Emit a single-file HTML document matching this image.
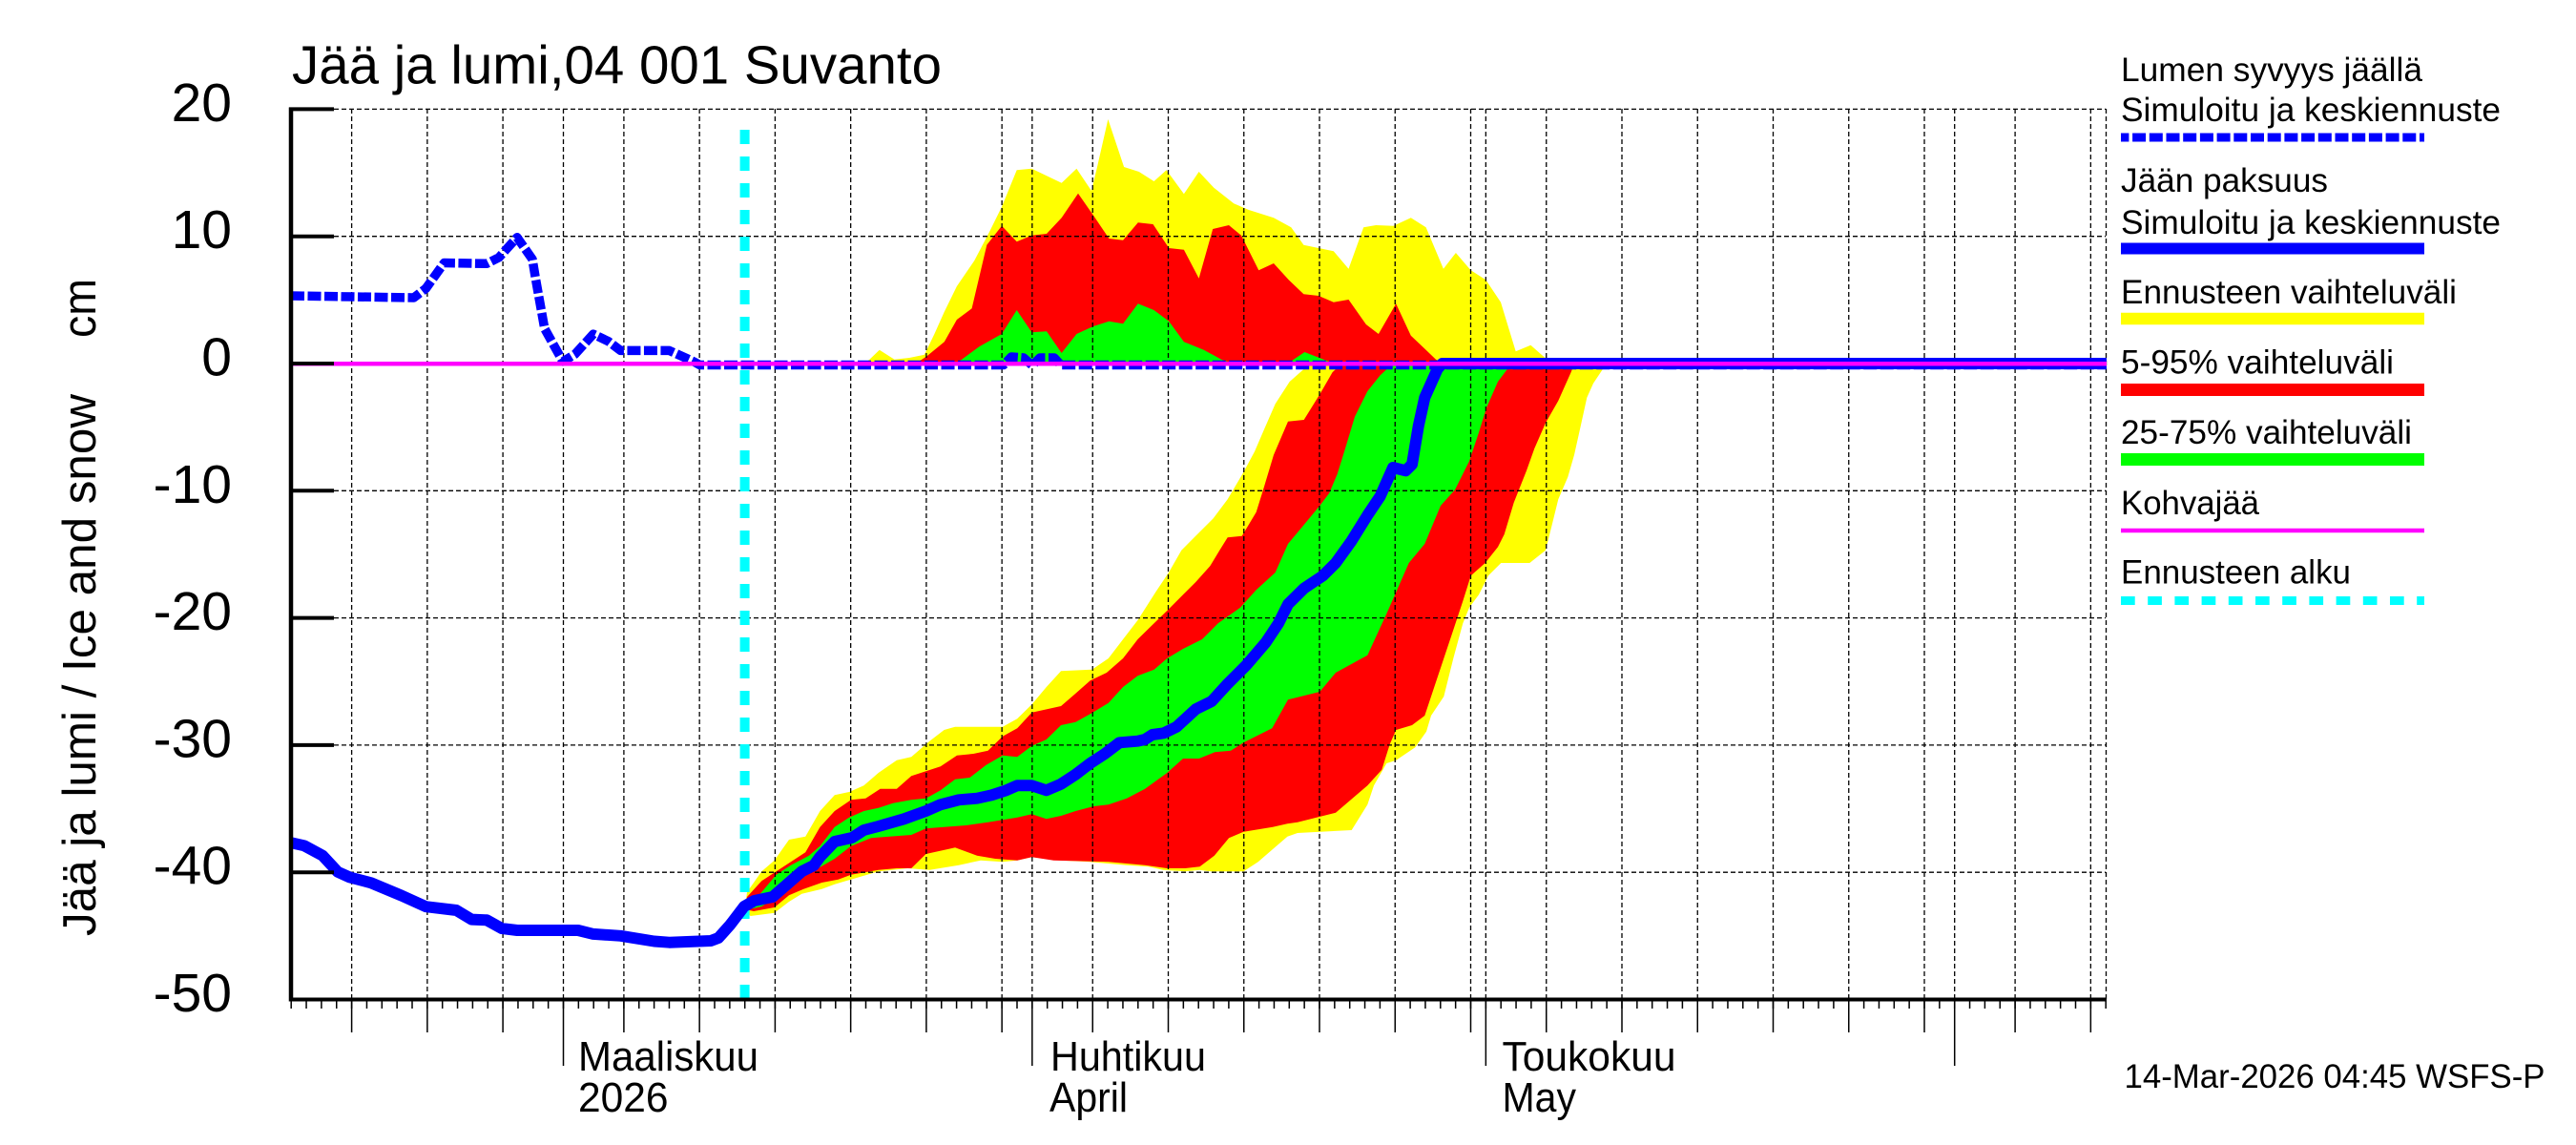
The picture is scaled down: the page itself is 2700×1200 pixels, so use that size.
<!DOCTYPE html>
<html>
<head>
<meta charset="utf-8">
<style>
html,body{margin:0;padding:0;background:#fff;}
svg{display:block;}
text{font-family:"Liberation Sans",Arial,sans-serif;fill:#000;}
</style>
</head>
<body>
<svg width="2700" height="1200" viewBox="0 0 2700 1200" xmlns="http://www.w3.org/2000/svg">
<rect x="0" y="0" width="2700" height="1200" fill="#fff"/>

<!-- Title -->
<text x="306" y="87.5" font-size="57" textLength="681" lengthAdjust="spacingAndGlyphs">Jää ja lumi,04 001 Suvanto</text>

<!-- Y axis label -->
<text transform="translate(100,981) rotate(-90)" font-size="49" textLength="568" lengthAdjust="spacingAndGlyphs">Jää ja lumi / Ice and snow</text>
<text transform="translate(100,354) rotate(-90)" font-size="49" textLength="62" lengthAdjust="spacingAndGlyphs">cm</text>

<!-- Y tick labels -->
<g font-size="57" text-anchor="end">
<text x="243" y="126.9">20</text>
<text x="243" y="260.2">10</text>
<text x="243" y="393.5">0</text>
<text x="243" y="526.8">-10</text>
<text x="243" y="660.1">-20</text>
<text x="243" y="793.4">-30</text>
<text x="243" y="926.7">-40</text>
<text x="243" y="1060">-50</text>
</g>

<!-- Bands: yellow -->
<g fill="#ffff00" stroke="none">
<polygon points="781,951 783,935 798.3,913.3 811.7,901.7 827,880 844.2,876.7 859.5,850 874.8,833.3 890.1,830 905.4,823.3 920.7,810 939.9,796.7 955.2,793.3 974.3,776.7 989.6,765 1001.1,761.7 1050.9,761.7 1066.2,753.3 1081.5,738.3 1096.8,720 1112.1,703.3 1144.6,701.7 1161.8,690 1177.1,670 1192.5,650 1211.6,620 1225,600 1238.3,576.7 1251.7,563.3 1271.7,543.3 1286.7,523.3 1303.3,495 1315,473.3 1325,450 1336.7,423.3 1351.7,400 1366.7,386.7 1375,381 1684,381 1680,386.7 1670,401.7 1663.3,416.7 1656.7,446.7 1650,476.7 1643.3,500 1633.3,523.3 1626.7,550 1620,576.7 1603.3,590 1573.3,590 1560,603.3 1550,623.3 1540,636.7 1533.3,653.3 1523.3,690 1513.3,730 1500,750 1495,766.7 1483.3,783.3 1463.3,796.7 1453.3,800 1440,823.3 1433.3,843.3 1416.7,870 1360,873 1349.4,876.7 1334,890 1318.7,903.3 1303.4,913.3 1269,913.3 1257.5,911.7 1242.2,913.3 1219.2,911.7 1204,908.3 1181,906.7 1142.7,903.3 1112.1,901.7 1081.5,898.3 1066.2,901.7 1050.9,903.3 1027.9,901.7 1004.9,906.7 974.3,911.7 951.4,910 920.7,913.3 892,921.7 874.8,926.7 861.4,931.7 840.4,936.7 827,945 811.7,956.7 786.7,960 781,955"/>
<polygon points="905,381 911.4,376.7 921.8,366.7 937.5,376.7 953.2,375 968.9,371.7 979.4,350 989.8,326.7 1002.9,300 1021.2,273.3 1036.9,243.3 1050,216.7 1065.7,178.3 1081.4,176.7 1112.7,191.7 1128.4,176.7 1144,200 1150,175 1161.4,125 1178.1,175 1193.8,180 1209.5,190 1222.6,178.3 1240.9,203.3 1256.6,180 1272.3,196.7 1293.2,213.3 1308.9,220 1335,228.3 1353.3,238.3 1366.4,256.7 1397.8,263.3 1413.5,281.7 1429.2,238.3 1442.2,236 1460.5,236.7 1478.8,228.3 1494.6,238.3 1512.9,281.7 1525.9,265 1541.6,283.3 1557.3,293.3 1573,316.7 1588.7,368.3 1604.4,361.7 1617.4,373.3 1627.9,381"/>
</g>
<!-- Bands: red -->
<g fill="#ff0000" stroke="none">
<polygon points="781,951 783,940 798.3,923.3 813.6,913.3 828.9,903.3 844.2,893.3 859.5,866.7 874.8,850 892,838.3 907.3,836.7 922.6,826.7 939.9,826.7 955.2,813.3 970.5,808.3 985.8,803.3 1003,791.7 1020.2,790 1035.5,786.7 1050.9,771.7 1066.2,763.3 1081.5,746.7 1112.1,740 1127.4,726.7 1142.7,713.3 1159.9,705 1177.1,690 1192.5,670 1207.8,655 1223.3,640 1240,623.3 1253.3,610 1268.3,593.3 1278.3,576.7 1286.7,563.3 1301.7,561.7 1316.7,536.7 1325,510 1335,476.7 1350,441.7 1366.7,440 1383.3,413.3 1396.7,390 1406.7,381 1650,381 1646.7,390 1633.3,420 1620,443.3 1608.3,470 1600,493.3 1586.7,526.7 1576.7,560 1570,573.3 1556.7,590 1541.7,603.3 1533.3,630 1520,670 1503.3,720 1493.3,750 1480,760 1463.3,765 1456.7,780 1448.3,806.7 1433.3,823.3 1400,851.7 1360,861.7 1349.4,863.3 1334,866.7 1303.4,871.7 1288.1,878.3 1272.8,896.7 1257.5,908.3 1242.2,910 1223.1,910 1200.1,906.7 1181,905 1161.8,903.3 1142.7,902.7 1104.4,901.7 1081.5,898.3 1066.2,901.7 1043.2,900 1024.1,896.7 1001.1,888.3 970.5,895 955.2,910 939.9,910 920.7,911.7 892,916.7 878.6,921.7 861.4,925 842.3,931.7 827,938.3 811.7,951 790,955 781,953"/>
<polygon points="960,381 966.3,376.7 971.5,373.3 989.8,358.3 1002.9,335 1018.6,323.3 1034.3,256.7 1050,236.7 1065.7,253.3 1081.4,246.7 1097,245 1112.7,228.3 1130,202.7 1146.7,226.7 1162.4,250 1177.1,251.7 1192.8,233.3 1208.5,235 1225.2,260 1240.9,261.7 1256.6,291.7 1271.2,240 1288,236 1301,246.7 1319.3,283.3 1335,276 1350.7,293.3 1366.4,308.3 1382.1,310 1397.8,316.7 1413.5,314 1431.8,340 1444.9,350 1463.2,318.3 1478.8,351.7 1494.6,366.7 1505,376.7 1512.9,381"/>
</g>
<!-- Bands: green -->
<g fill="#00ff00" stroke="none">
<polygon points="781,952 798.3,935 813.6,916.7 828.9,906.7 848,896.7 859.5,886.7 874.8,866.7 890.1,856.7 905.4,850 920.7,846.7 936,841.7 955.2,838.3 970.5,836.7 985.8,828.3 1001.1,816.7 1016.4,815 1033.6,801.7 1050.9,791.7 1066.2,793.3 1081.5,781.7 1096.8,775 1112.1,760 1127.4,756.7 1142.7,748.3 1161.8,736.7 1177.1,720 1192.5,708.3 1209.7,701.7 1223.3,690 1240,680 1260,670 1276.7,653.3 1300,636.7 1316.7,618.3 1336.7,600 1350,570 1366.7,550 1383.3,530 1393.3,516.7 1401.7,496.7 1410,470 1420,436.7 1433.3,410 1446.7,393.3 1460,381 1583,381 1580,386.7 1570,400 1558.3,426.7 1550,453.3 1540,483.3 1525,513.3 1510,530 1493.3,570 1476.7,590 1453.3,643.3 1433.3,686.7 1400,705 1383.3,725 1350,733.3 1333.3,763.3 1303.3,778.3 1290,786.7 1273.3,788.3 1256.7,795 1240,795 1223.3,810 1200.1,826.7 1181,836.7 1161.8,843.3 1146.5,845 1127.4,850 1112.1,855 1096.8,858.3 1081.5,853.3 1066.2,856.7 1035.5,861.7 1012.6,865 989.6,866.7 970.5,868.3 955.2,875 932.2,876.7 913.1,878.3 892,886.7 874.8,900 851.8,913.3 828.9,926.7 813.6,940 798.3,950 781,954"/>
<polygon points="1000,381 1008.1,376.7 1026.4,363.3 1050,350 1065.7,325 1081.4,348.3 1097,347.3 1112.7,370 1128.4,350 1146.7,341.7 1162.4,336.7 1177.1,339.3 1192.8,318.3 1209.5,325 1225.2,336.7 1240.9,358.3 1261.8,366.7 1280.1,376.7 1293.2,381"/>
<polygon points="1350,381 1355.9,376.7 1367.4,369 1387.3,376.7 1397.8,381"/>
</g>

<!-- Grid -->
<g stroke="#000" stroke-width="1.3" stroke-dasharray="5 3" fill="none">
<path d="M350 114.4H2207 M350 247.7H2207 M350 381H2207 M350 514.3H2207 M350 647.6H2207 M350 780.9H2207 M350 914.2H2207"/>
<path d="M368.6 114V1047 M447.85 114V1047 M527.1 114V1047 M590.5 114V1047 M653.9 114V1047 M733.15 114V1047 M812.4 114V1047 M891.65 114V1047 M970.9 114V1047 M1050.15 114V1047 M1081.85 114V1047 M1145.25 114V1047 M1224.5 114V1047 M1303.75 114V1047 M1383 114V1047 M1462.25 114V1047 M1541.5 114V1047 M1557.35 114V1047 M1620.75 114V1047 M1700 114V1047 M1779.25 114V1047 M1858.5 114V1047 M1937.75 114V1047 M2017 114V1047 M2048.7 114V1047 M2112.1 114V1047 M2191.35 114V1047 M2207.5 114V1047"/>
</g>

<!-- Cyan forecast start -->
<line x1="780.6" y1="1047" x2="780.6" y2="126" stroke="#00ffff" stroke-width="10" stroke-dasharray="15 13"/>

<!-- Snow line (dashed blue) -->
<polyline fill="none" stroke="#0000ff" stroke-width="9.5" stroke-dasharray="14 3.5" stroke-linejoin="round"
points="305,310 433.7,312 446.4,302.3 465.6,275.5 510.2,276.3 523,269.8 542,248.8 558,271.7 561.2,290.9 570.8,344.4 590,378.9 602.7,371.2 621.8,350.2 637.8,357.8 650.5,367.4 701.5,367.4 727,378.9 733.4,382.5 1052,382.5 1060,374 1073,375 1082,383 1090,375 1105,375 1112,382.5 2208,382.5"/>

<!-- Ice line (solid blue) -->
<polyline fill="none" stroke="#0000ff" stroke-width="12" stroke-linejoin="round"
points="305,883.2 318.9,886.3 338,896.6 354,913.8 366.7,919.5 389,925.3 421,938.7 446.4,950.2 478.3,954 494.3,963.6 510.2,964.3 526.1,973.1 542.1,975 605.9,975 621.8,978.9 650.5,980.8 685.6,986.5 701.5,987.7 745,986 753,983 765.3,969.3 780,950 790.6,944 809.8,940 825.1,926.7 840.4,913.3 853,907 859.5,898 874.8,882 893,878 905.4,870 920.7,866 947.5,858.3 970.5,850 985.8,843.3 1004.9,838.3 1024.1,836.7 1039.4,833.3 1054.7,828.3 1066.2,823.3 1081.5,823.3 1096.8,828.3 1112.1,821.7 1127.4,811.7 1142.7,800 1158,790 1173.3,778.3 1192.5,776.7 1200,775 1207.8,770 1220,768.3 1233.3,761.7 1253.3,743.3 1270,735 1286.7,716.7 1306.7,696.7 1326.7,673.3 1340,653.3 1350,633.3 1366.7,616.7 1386.7,603.3 1400,590 1416.7,566.7 1433.3,540 1446.7,520 1460,490 1473.3,493.3 1480,486.7 1486.7,446.7 1493.3,416.7 1506.7,386.7 1511.7,381 2208,381"/>

<!-- Kohvajää magenta -->
<line x1="305" y1="381.2" x2="2208" y2="381.2" stroke="#ff00ff" stroke-width="4.5"/>

<!-- Axes -->
<g stroke="#000" fill="none">
<line x1="305" y1="112.5" x2="305" y2="1049.5" stroke-width="4.5"/>
<line x1="303" y1="1047.5" x2="2208" y2="1047.5" stroke-width="4"/>
<path stroke-width="4" d="M303 114.4h47 M303 247.7h47 M303 381h47 M303 514.3h47 M303 647.6h47 M303 780.9h47 M303 914.2h47"/>
<!-- daily ticks -->
<path stroke-width="1.5" d="M305.2 1049v8 M321.05 1049v8 M336.9 1049v8 M352.75 1049v8 M368.6 1049v8 M384.45 1049v8 M400.3 1049v8 M416.15 1049v8 M432 1049v8 M447.85 1049v8 M463.7 1049v8 M479.55 1049v8 M495.4 1049v8 M511.25 1049v8 M527.1 1049v8 M542.95 1049v8 M558.8 1049v8 M574.65 1049v8 M590.5 1049v8 M606.35 1049v8 M622.2 1049v8 M638.05 1049v8 M653.9 1049v8 M669.75 1049v8 M685.6 1049v8 M701.45 1049v8 M717.3 1049v8 M733.15 1049v8 M749 1049v8 M764.85 1049v8 M780.7 1049v8 M796.55 1049v8 M812.4 1049v8 M828.25 1049v8 M844.1 1049v8 M859.95 1049v8 M875.8 1049v8 M891.65 1049v8 M907.5 1049v8 M923.35 1049v8 M939.2 1049v8 M955.05 1049v8 M970.9 1049v8 M986.75 1049v8 M1002.6 1049v8 M1018.45 1049v8 M1034.3 1049v8 M1050.15 1049v8 M1066 1049v8 M1081.85 1049v8 M1097.7 1049v8 M1113.55 1049v8 M1129.4 1049v8 M1145.25 1049v8 M1161.1 1049v8 M1176.95 1049v8 M1192.8 1049v8 M1208.65 1049v8 M1224.5 1049v8 M1240.35 1049v8 M1256.2 1049v8 M1272.05 1049v8 M1287.9 1049v8 M1303.75 1049v8 M1319.6 1049v8 M1335.45 1049v8 M1351.3 1049v8 M1367.15 1049v8 M1383 1049v8 M1398.85 1049v8 M1414.7 1049v8 M1430.55 1049v8 M1446.4 1049v8 M1462.25 1049v8 M1478.1 1049v8 M1493.95 1049v8 M1509.8 1049v8 M1525.65 1049v8 M1541.5 1049v8 M1557.35 1049v8 M1573.2 1049v8 M1589.05 1049v8 M1604.9 1049v8 M1620.75 1049v8 M1636.6 1049v8 M1652.45 1049v8 M1668.3 1049v8 M1684.15 1049v8 M1700 1049v8 M1715.85 1049v8 M1731.7 1049v8 M1747.55 1049v8 M1763.4 1049v8 M1779.25 1049v8 M1795.1 1049v8 M1810.95 1049v8 M1826.8 1049v8 M1842.65 1049v8 M1858.5 1049v8 M1874.35 1049v8 M1890.2 1049v8 M1906.05 1049v8 M1921.9 1049v8 M1937.75 1049v8 M1953.6 1049v8 M1969.45 1049v8 M1985.3 1049v8 M2001.15 1049v8 M2017 1049v8 M2032.85 1049v8 M2048.7 1049v8 M2064.55 1049v8 M2080.4 1049v8 M2096.25 1049v8 M2112.1 1049v8 M2127.95 1049v8 M2143.8 1049v8 M2159.65 1049v8 M2175.5 1049v8 M2191.35 1049v8 M2207.2 1049v8"/>
<!-- 5-day ticks -->
<path stroke-width="1.5" d="M368.6 1049v33 M447.85 1049v33 M527.1 1049v33 M653.9 1049v33 M733.15 1049v33 M812.4 1049v33 M891.65 1049v33 M970.9 1049v33 M1050.15 1049v33 M1145.25 1049v33 M1224.5 1049v33 M1303.75 1049v33 M1383 1049v33 M1462.25 1049v33 M1541.5 1049v33 M1620.75 1049v33 M1700 1049v33 M1779.25 1049v33 M1858.5 1049v33 M1937.75 1049v33 M2017 1049v33 M2112.1 1049v33 M2191.35 1049v33"/>
<!-- month ticks -->
<path stroke-width="1.5" d="M590.5 1049v68 M1081.85 1049v68 M1557.35 1049v68 M2048.7 1049v68"/>
</g>

<!-- X labels -->
<g font-size="44">
<text x="606" y="1122" textLength="189" lengthAdjust="spacingAndGlyphs">Maaliskuu</text>
<text x="606" y="1165" textLength="94.5" lengthAdjust="spacingAndGlyphs">2026</text>
<text x="1101" y="1122" textLength="163" lengthAdjust="spacingAndGlyphs">Huhtikuu</text>
<text x="1100" y="1165" textLength="82" lengthAdjust="spacingAndGlyphs">April</text>
<text x="1574.5" y="1122" textLength="182" lengthAdjust="spacingAndGlyphs">Toukokuu</text>
<text x="1574.5" y="1165" textLength="77.5" lengthAdjust="spacingAndGlyphs">May</text>
</g>

<!-- Date stamp -->
<text x="2226.5" y="1140" font-size="35" textLength="441" lengthAdjust="spacingAndGlyphs">14-Mar-2026 04:45 WSFS-P</text>

<!-- Legend -->
<g font-size="35">
<text x="2223" y="85" textLength="316" lengthAdjust="spacingAndGlyphs">Lumen syvyys jäällä</text>
<text x="2223" y="127" textLength="398" lengthAdjust="spacingAndGlyphs">Simuloitu ja keskiennuste</text>
<text x="2223" y="201" textLength="217" lengthAdjust="spacingAndGlyphs">Jään paksuus</text>
<text x="2223" y="245" textLength="398" lengthAdjust="spacingAndGlyphs">Simuloitu ja keskiennuste</text>
<text x="2223" y="318" textLength="352" lengthAdjust="spacingAndGlyphs">Ennusteen vaihteluväli</text>
<text x="2223" y="391.5" textLength="286" lengthAdjust="spacingAndGlyphs">5-95% vaihteluväli</text>
<text x="2223" y="465" textLength="305" lengthAdjust="spacingAndGlyphs">25-75% vaihteluväli</text>
<text x="2223" y="539" textLength="145" lengthAdjust="spacingAndGlyphs">Kohvajää</text>
<text x="2223" y="611.6" textLength="241" lengthAdjust="spacingAndGlyphs">Ennusteen alku</text>
</g>
<g fill="none">
<line x1="2223" y1="144" x2="2541" y2="144" stroke="#0000ff" stroke-width="9" stroke-dasharray="14 3.7" stroke-dashoffset="5.6"/>
<line x1="2223" y1="260.5" x2="2541" y2="260.5" stroke="#0000ff" stroke-width="12"/>
<line x1="2223" y1="334" x2="2541" y2="334" stroke="#ffff00" stroke-width="12.5"/>
<line x1="2223" y1="408.5" x2="2541" y2="408.5" stroke="#ff0000" stroke-width="13"/>
<line x1="2223" y1="481.5" x2="2541" y2="481.5" stroke="#00ff00" stroke-width="13"/>
<line x1="2223" y1="556" x2="2541" y2="556" stroke="#ff00ff" stroke-width="4.5"/>
<line x1="2223" y1="629.5" x2="2541" y2="629.5" stroke="#00ffff" stroke-width="9" stroke-dasharray="14.7 13.5"/>
</g>
</svg>
</body>
</html>
